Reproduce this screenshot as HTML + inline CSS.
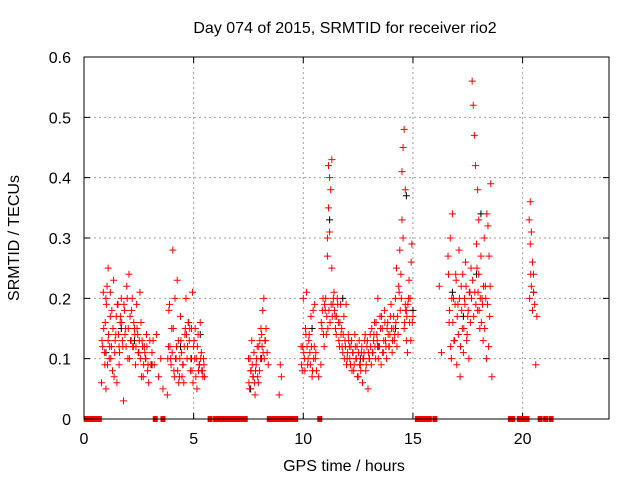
<!DOCTYPE html>
<html><head><meta charset="utf-8"><style>
html,body{margin:0;padding:0;background:#fff;}
svg text{font-family:"Liberation Sans",sans-serif;}
</style></head><body>
<svg id="chart" width="640" height="480" viewBox="0 0 640 480" xmlns="http://www.w3.org/2000/svg">
<rect width="640" height="480" fill="#fff"/>
<g id="grid"></g>
<g id="ticks"></g>
<g id="black"></g>
<g id="red"></g>
<rect x="84" y="57" width="525" height="362" fill="none" stroke="#000" stroke-width="1"/>
<text x="345" y="33" font-size="16" text-anchor="middle">Day 074 of 2015, SRMTID for receiver rio2</text>
<text transform="translate(19,238) rotate(-90)" font-size="16" text-anchor="middle">SRMTID / TECUs</text>
<text x="344" y="471" font-size="16" text-anchor="middle">GPS time / hours</text>
</svg>
<script>
const xTicks=[0,5,10,15,20];
const yTicks=[0,0.1,0.2,0.3,0.4,0.5,0.6];
const yTickLabels=["0","0.1","0.2","0.3","0.4","0.5","0.6"];
const zeroTimes=[0.1,0.25,0.4,0.55,0.7,3.25,3.6,5.75,6.0,6.2,6.35,6.55,6.75,6.95,7.15,7.35,8.45,8.65,8.85,9.05,9.25,9.45,9.65,10.75,15.2,15.35,15.55,15.75,16.0,19.45,19.55,19.85,19.95,20.1,20.2,20.8,21.05,21.3];
const redT=[0.8,0.85,0.9,0.95,1.0,1.0,1.05,1.1,1.1,1.15,1.2,1.2,1.25,1.3,1.35,1.4,1.45,1.5,1.55,1.6,1.6,1.65,1.7,1.75,1.8,1.85,1.9,1.95,2.0,2.05,2.1,2.15,2.2,2.25,2.3,2.35,2.4,2.45,2.5,2.55,2.6,2.65,2.7,2.75,2.8,2.85,2.9,2.95,3.0,3.1,3.2,3.3,3.4,3.5,
3.6,3.8,3.85,3.9,3.95,4.0,4.05,4.1,4.15,4.2,4.25,4.3,4.35,4.4,4.45,4.5,4.55,4.6,4.65,4.7,4.75,4.8,4.85,4.9,4.95,5.0,5.05,5.1,5.15,5.2,5.25,5.3,5.35,5.4,5.45,5.5,
7.5,7.55,7.6,7.65,7.7,7.75,7.8,7.85,7.9,7.95,8.0,8.05,8.1,8.15,8.2,8.25,8.3,8.35,8.4,8.9,8.95,9.0,
9.9,9.95,10.0,10.05,10.1,10.15,10.2,10.25,10.3,10.35,10.4,10.45,10.5,10.55,10.6,10.7,10.8,10.85,10.9,10.95,11.0,11.05,11.1,11.1,11.15,11.15,11.2,11.2,11.25,11.3,11.3,11.35,11.4,11.45,11.5,11.55,11.6,11.65,11.7,11.75,11.8,11.85,11.9,11.95,12.0,12.05,12.1,12.15,12.2,12.25,12.3,12.35,12.4,12.45,12.5,12.55,12.6,12.65,12.7,12.75,12.8,12.85,12.9,12.95,13.0,13.05,13.1,13.15,13.2,13.25,13.3,13.35,13.4,13.45,13.5,13.55,13.6,13.65,13.7,13.75,13.8,13.85,13.9,13.95,14.0,14.05,14.1,14.15,14.2,14.25,14.3,14.35,14.4,14.45,14.5,14.5,14.55,14.55,14.6,14.6,14.65,14.65,14.7,14.7,14.75,14.8,14.85,14.9,14.95,15.0,
16.2,16.3,16.6,16.65,16.7,16.75,16.8,16.85,16.9,16.95,17.0,17.05,17.1,17.15,17.2,17.25,17.3,17.35,17.4,17.45,17.5,17.55,17.6,17.65,17.7,17.75,17.8,17.85,17.9,17.95,17.95,18.0,18.0,18.05,18.1,18.15,18.2,18.25,18.3,18.35,18.4,18.45,18.5,18.55,18.6,
20.3,20.35,20.35,20.4,20.4,20.45,20.45,20.5,20.5,20.55,20.6,20.65,
0.82,0.88,0.93,0.97,1.02,1.07,1.12,1.17,1.22,1.27,1.32,1.37,1.42,1.47,1.52,1.57,1.62,1.67,1.72,1.77,1.82,1.87,1.92,1.97,2.02,2.07,2.12,2.17,2.22,2.27,2.32,2.37,2.42,2.47,2.52,2.57,2.62,2.67,2.72,2.77,2.82,2.87,2.92,3.05,3.15,
3.82,3.87,3.92,3.97,4.02,4.07,4.12,4.17,4.22,4.27,4.32,4.37,4.42,4.47,4.52,4.57,4.62,4.67,4.72,4.77,4.82,4.87,4.92,4.97,5.02,5.07,5.12,5.17,5.22,5.27,5.32,5.37,5.42,5.47,
7.52,7.57,7.62,7.67,7.72,7.77,7.82,7.87,7.92,7.97,8.02,8.07,8.12,8.17,8.22,8.27,
9.92,9.97,10.02,10.07,10.12,10.17,10.22,10.27,10.32,10.37,10.42,10.47,10.52,10.57,10.82,10.87,10.92,10.97,11.02,11.07,11.12,11.17,11.22,11.27,11.32,11.37,11.42,11.47,11.52,11.57,11.62,11.67,11.72,11.77,11.82,11.87,11.92,11.97,12.02,12.07,12.12,12.17,12.22,12.27,12.32,12.37,12.42,12.47,12.52,12.57,12.62,12.67,12.72,12.77,12.82,12.87,12.92,12.97,13.02,13.07,13.12,13.17,13.22,13.27,13.32,13.37,13.42,13.47,13.52,13.57,13.62,13.67,13.72,13.77,13.82,13.87,13.92,13.97,14.02,14.07,14.12,14.17,14.22,14.27,14.32,14.37,14.42,14.47,14.62,14.67,14.72,14.77,14.82,14.87,14.92,14.97,
16.62,16.67,16.72,16.77,16.82,16.87,16.92,16.97,17.02,17.07,17.12,17.17,17.22,17.27,17.32,17.37,17.42,17.47,17.52,17.57,17.62,17.67,17.72,17.77,17.82,17.87,17.92,17.97,18.02,18.07,18.12,18.17,18.22,18.27,18.32,18.37,18.42,18.47,18.52,
20.32,20.37,20.42,20.47,20.52,20.57];
const redV=[0.06,0.12,0.15,0.09,0.2,0.05,0.22,0.13,0.25,0.1,0.21,0.17,0.12,0.08,0.23,0.11,0.14,0.06,0.19,0.12,0.09,0.16,0.2,0.13,0.03,0.18,0.15,0.22,0.1,0.24,0.17,0.13,0.2,0.12,0.15,0.09,0.19,0.14,0.11,0.21,0.16,0.13,0.07,0.12,0.1,0.14,0.08,0.06,0.13,0.11,0.09,0.14,0.07,0.1,
0.05,0.04,0.12,0.19,0.1,0.15,0.28,0.08,0.2,0.1,0.23,0.13,0.07,0.17,0.11,0.09,0.06,0.14,0.2,0.1,0.16,0.13,0.08,0.15,0.21,0.12,0.1,0.07,0.05,0.14,0.09,0.16,0.11,0.08,0.1,0.07,
0.1,0.05,0.08,0.13,0.07,0.11,0.04,0.09,0.12,0.06,0.08,0.1,0.14,0.18,0.2,0.13,0.15,0.11,0.09,0.04,0.09,0.07,
0.12,0.08,0.2,0.1,0.15,0.21,0.09,0.13,0.11,0.17,0.07,0.18,0.12,0.1,0.08,0.07,0.09,0.15,0.2,0.12,0.18,0.14,0.27,0.3,0.35,0.42,0.4,0.31,0.38,0.43,0.25,0.19,0.21,0.17,0.14,0.2,0.16,0.12,0.19,0.15,0.11,0.17,0.13,0.19,0.1,0.14,0.12,0.09,0.13,0.11,0.08,0.14,0.1,0.12,0.07,0.13,0.09,0.11,0.06,0.1,0.13,0.08,0.12,0.05,0.1,0.14,0.09,0.11,0.13,0.16,0.1,0.14,0.2,0.12,0.17,0.09,0.15,0.11,0.18,0.13,0.1,0.16,0.12,0.14,0.19,0.11,0.15,0.13,0.2,0.25,0.17,0.22,0.28,0.24,0.33,0.41,0.3,0.45,0.48,0.15,0.38,0.19,0.13,0.18,0.11,0.2,0.16,0.13,
0.29,0.17,0.22,0.11,0.27,0.16,0.3,0.1,0.34,0.2,0.13,0.24,0.09,0.19,0.28,0.07,0.22,0.15,0.11,0.2,0.26,0.13,0.17,0.1,0.21,0.25,0.56,0.52,0.47,0.42,0.29,0.38,0.18,0.24,0.33,0.15,0.27,0.2,0.13,0.3,0.22,0.1,0.19,0.12,0.17,
0.39,0.07,0.33,0.29,0.36,0.22,0.31,0.26,0.18,0.24,0.21,0.19,
0.09,0.17,0.13,0.21,0.11,0.16,0.19,0.09,0.14,0.12,0.1,0.18,0.15,0.07,0.13,0.17,0.19,0.14,0.11,0.17,0.16,0.12,0.19,0.14,0.12,0.2,0.15,0.1,0.13,0.18,0.12,0.16,0.14,0.12,0.15,0.11,0.13,0.1,0.07,0.12,0.09,0.11,0.1,0.12,0.09,
0.09,0.13,0.1,0.18,0.12,0.09,0.11,0.15,0.07,0.1,0.12,0.08,0.06,0.1,0.13,0.07,0.09,0.12,0.15,0.14,0.12,0.16,0.15,0.1,0.08,0.06,0.13,0.15,0.1,0.12,0.08,0.09,0.1,0.08,
0.07,0.09,0.06,0.1,0.08,0.09,0.07,0.06,0.08,0.1,0.07,0.12,0.13,0.15,0.12,0.11,
0.1,0.13,0.09,0.12,0.11,0.08,0.14,0.12,0.1,0.14,0.09,0.12,0.08,0.1,0.19,0.11,0.16,0.18,0.14,0.19,0.2,0.17,0.15,0.18,0.16,0.19,0.17,0.2,0.18,0.15,0.17,0.19,0.13,0.16,0.14,0.12,0.14,0.1,0.12,0.09,0.11,0.13,0.1,0.12,0.08,0.11,0.09,0.12,0.1,0.07,0.11,0.09,0.08,0.12,0.1,0.11,0.14,0.09,0.13,0.11,0.1,0.12,0.15,0.11,0.14,0.12,0.16,0.13,0.1,0.12,0.15,0.17,0.11,0.13,0.16,0.12,0.15,0.14,0.12,0.17,0.15,0.13,0.17,0.14,0.16,0.12,0.14,0.21,0.18,0.2,0.16,0.18,0.17,0.19,
0.23,0.2,0.26,0.16,0.24,0.18,0.12,0.2,0.16,0.13,0.19,0.23,0.17,0.14,0.2,0.12,0.18,0.24,0.15,0.19,0.22,0.14,0.18,0.21,0.16,0.2,0.23,0.17,0.21,0.19,0.25,0.21,0.18,0.2,0.16,0.19,0.22,0.15,0.2,
0.34,0.32,0.27,0.22,0.2,0.24];
const blackT=[1.0,1.7,2.3,3.1,4.4,4.9,5.3,7.6,8.1,10.4,11.2,11.8,12.6,13.4,14.2,14.7,15.0,16.8,17.3,17.9,18.1,20.5];
const blackV=[0.11,0.15,0.13,0.09,0.12,0.1,0.14,0.05,0.1,0.15,0.33,0.2,0.1,0.12,0.15,0.37,0.18,0.21,0.17,0.24,0.34,0.21];

const X0=84,X1=609,Y0=419,Y1=57,XMAX=23.94,YMAX=0.6;
const xs=t=>X0+(X1-X0)*t/XMAX;
const ys=v=>Y0-(Y0-Y1)*v/YMAX;
const NS="http://www.w3.org/2000/svg";
function mk(tag,attrs,parent){const e=document.createElementNS(NS,tag);for(const k in attrs)e.setAttribute(k,attrs[k]);parent.appendChild(e);return e;}
const grid=document.getElementById('grid'),ticks=document.getElementById('ticks');
xTicks.forEach(t=>{const x=xs(t);
 if(t>0){const l=mk('line',{x1:x,x2:x,y1:Y1,y2:Y0,stroke:'#a0a0a0','stroke-dasharray':'2,3'},grid);
 
 }
 const tk=mk('path',{d:`M${x} ${Y0}v-6M${x} ${Y1}v6`,stroke:'#000'},ticks);
 
 
 const tx=mk('text',{x:x,y:Y0+25,'font-size':'16','text-anchor':'middle'},ticks);tx.textContent=t;
 
 
});
yTicks.forEach((v,i)=>{const y=ys(v);
 if(v>0&&v<YMAX){const l=mk('line',{x1:X0,x2:X1,y1:y,y2:y,stroke:'#a0a0a0','stroke-dasharray':'2,3'},grid);
 
 }
 const tk=mk('path',{d:`M${X0} ${y}h6M${X1} ${y}h-6`,stroke:'#000'},ticks);
 
 
 const tx=mk('text',{x:X0-13,y:y+6,'font-size':'16','text-anchor':'end'},ticks);tx.textContent=yTickLabels[i];
 
 
});
function plus(g,t,v,color){const x=xs(t),y=ys(v);
 const p=mk('path',{d:`M${x-3.5} ${y}h7M${x} ${y-3.5}v7`,stroke:color,'stroke-width':'1'},g);
 
 }
const bg=document.getElementById('black'),rg=document.getElementById('red');
blackT.forEach((t,i)=>plus(bg,t,blackV[i],'#000'));
redT.forEach((t,i)=>plus(rg,t,redV[i],'#ff0000'));
zeroTimes.forEach(t=>{const x=xs(t);
 const r=mk('rect',{x:x-2.5,y:Y0-3,width:5,height:6,fill:'#ff0000'},rg);
 
 });
</script>
</body></html>
